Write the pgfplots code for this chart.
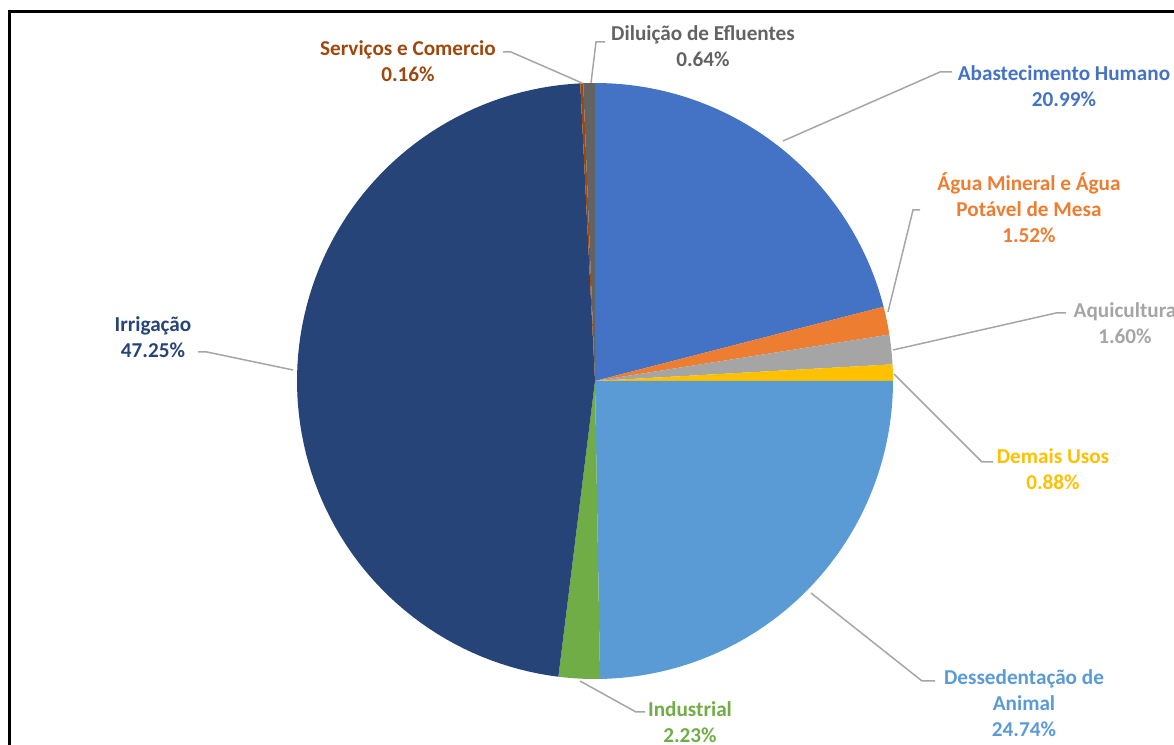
\documentclass[border=0pt]{standalone}
\usepackage{fontspec}
\setmainfont{Carlito}
\usepackage{pgfplots}
\usepackage{pgfplotstable}
\pgfplotsset{compat=1.18}
\definecolor{cAbas}{HTML}{4472C4}
\definecolor{cAgua}{HTML}{ED7D31}
\definecolor{cAqui}{HTML}{A5A5A5}
\definecolor{cDema}{HTML}{FFC000}
\definecolor{cDess}{HTML}{5B9BD5}
\definecolor{cIndu}{HTML}{70AD47}
\definecolor{cIrri}{HTML}{264478}
\definecolor{cServ}{HTML}{9E480E}
\definecolor{cDilu}{HTML}{636363}
\definecolor{leader}{HTML}{A6A6A6}
\tikzset{lbl/.style={align=center, font=\bfseries\fontsize{10.6}{13}\selectfont}}
% shares of water use (%), clockwise from the top
\pgfplotstableread{
name value
Abastecimento 20.99
Agua 1.52
Aquicultura 1.60
Demais 0.88
Dessedentacao 24.74
Industrial 2.23
Irrigacao 47.25
Servicos 0.16
Diluicao 0.64
}\usesdata
\newcommand{\cx}{595}
\newcommand{\cy}{364}
\newcommand{\R}{298}
\begin{document}
\begin{tikzpicture}
\path[use as bounding box] (0,0) rectangle (587pt,372.5pt);
\begin{axis}[at={(0,0)}, anchor=south west, x=0.5pt, y=0.5pt,
  xmin=0, xmax=1174, ymin=0, ymax=745, hide axis, clip=true]
% pie wedges: angles from cumulative shares
\xdef\cum{0}
\foreach \i/\col in {0/cAbas,1/cAgua,2/cAqui,3/cDema,4/cDess,5/cIndu,6/cIrri,7/cServ,8/cDilu}{
  \pgfplotstablegetelem{\i}{value}\of\usesdata
  \edef\v{\pgfplotsretval}
  \pgfmathsetmacro{\astart}{90-3.6*\cum}
  \pgfmathsetmacro{\newcum}{\cum+\v}
  \pgfmathsetmacro{\aend}{90-3.6*\newcum}
  \xdef\cum{\newcum}
  \edef\doplot{\noexpand\addplot[fill=\col, draw=none, domain=\aend:\astart, samples=90, variable=\noexpand\t]
    ({\cx+\R*cos(\noexpand\t)},{\cy+\R*sin(\noexpand\t)}) -- (axis cs:\cx,\cy) -- cycle;}
  \doplot
}
% leader lines
\addplot[draw=leader, line width=0.75pt] coordinates {(503,693) (511,693) (582,662)};
\addplot[draw=leader, line width=0.75pt] coordinates {(605,703) (596,703) (591,662)};
\addplot[draw=leader, line width=0.75pt] coordinates {(952,673) (940,673) (783,604)};
\addplot[draw=leader, line width=0.75pt] coordinates {(920,535) (913,535) (888,433)};
\addplot[draw=leader, line width=0.75pt] coordinates {(1066,432) (1056,432) (893,395)};
\addplot[draw=leader, line width=0.75pt] coordinates {(993,283) (982,283) (894,371)};
\addplot[draw=leader, line width=0.75pt] coordinates {(935,64) (922,64) (811,152)};
\addplot[draw=leader, line width=0.75pt] coordinates {(645,33) (636,33) (580,64)};
\addplot[draw=leader, line width=0.75pt] coordinates {(198,393) (207,393) (293,375)};
% frame
\addplot[draw=black, line width=1.5pt] coordinates {(1200,733) (9.5,733) (9.5,-20)};
% labels
\node[lbl, text=cServ] at (axis cs:408,684) {Serviços e Comercio\\0.16\%};
\node[lbl, text=cDilu] at (axis cs:703,699) {Diluição de Efluentes\\0.64\%};
\node[lbl, text=cAbas] at (axis cs:1064,658.5) {Abastecimento Humano\\20.99\%};
\node[lbl, text=cAgua] at (axis cs:1029,537) {Água Mineral e Água\\Potável de Mesa\\1.52\%};
\node[lbl, text=cAqui] at (axis cs:1125,421.5) {Aquicultura\\1.60\%};
\node[lbl, text=cDema] at (axis cs:1053,276) {Demais Usos\\0.88\%};
\node[lbl, text=cDess] at (axis cs:1024,42.3) {Dessedentação de\\Animal\\24.74\%};
\node[lbl, text=cIndu] at (axis cs:690,23) {Industrial\\2.23\%};
\node[lbl, text=cIrri] at (axis cs:153,408) {Irrigação\\47.25\%};
\end{axis}
\end{tikzpicture}
\end{document}
